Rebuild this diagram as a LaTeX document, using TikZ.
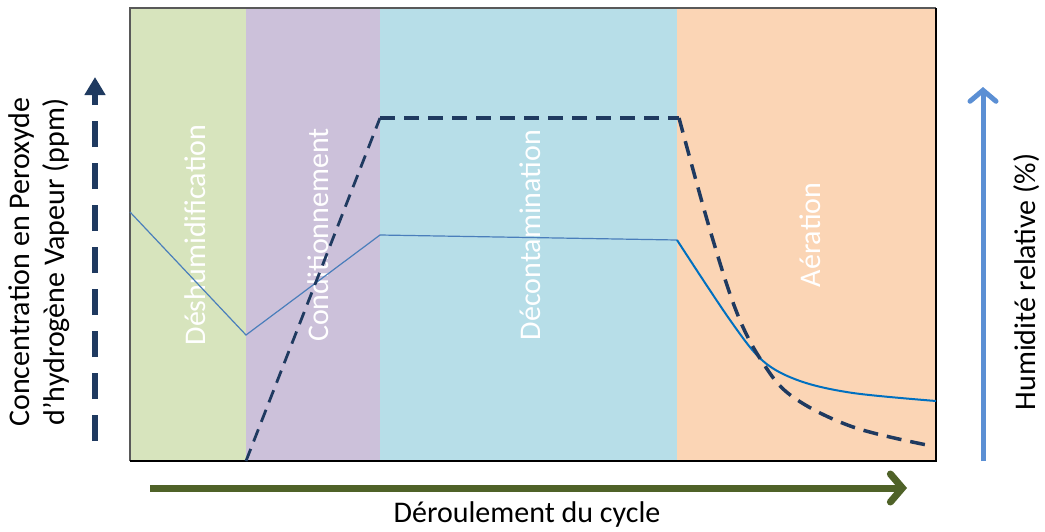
\documentclass[tikz,border=0pt]{standalone}
\usepackage{fontspec}
\setmainfont{Carlito}
\usetikzlibrary{arrows.meta}
\definecolor{cgreen}{HTML}{D7E4BD}
\definecolor{cpurple}{HTML}{CCC1DA}
\definecolor{cblue}{HTML}{B7DEE8}
\definecolor{corange}{HTML}{FBD5B5}
\definecolor{navy}{HTML}{1F3A60}
\definecolor{hum}{HTML}{4A7EBB}
\definecolor{humb}{HTML}{0070C0}
\definecolor{rarrow}{HTML}{5B8FD4}
\definecolor{olive}{HTML}{4F6228}
\tikzset{
  phase/.style={fill=#1, draw=none},
  phlabel/.style={text=white, rotate=90, font=\fontsize{30}{35}\selectfont, inner sep=0pt},
  axlabel/.style={text=black, font=\fontsize{30}{35}\selectfont, inner sep=0pt},
  conc/.style={draw=navy, line width=3.5pt, dash pattern=on 15pt off 9pt},
  humid/.style={draw=hum, line width=1.2pt},
}
\begin{document}
\begin{tikzpicture}[x=1pt,y=-1pt]
\useasboundingbox (0,0) rectangle (1045,531);
% phases
\fill[phase=cgreen] (130,8) rectangle (246,461);
\fill[phase=cpurple] (246,8) rectangle (380,461);
\fill[phase=cblue] (380,8) rectangle (677,461);
\fill[phase=corange] (677,8) rectangle (936,461);
% labels
\node[phlabel] (l1) at (195,235) {Déshumidification};
\node[phlabel] (l2) at (318,235) {Conditionnement};
\node[phlabel] (l3) at (530,235) {Décontamination};
\node[phlabel] (l4) at (810,235) {Aération};
% frame
\draw[draw=black!65, line width=2pt] (130,461) -- (130,8) -- (936,8);
\draw[draw=black, line width=2.5pt] (130,461) -- (936,461) -- (936,8);
% humidity curve
\coordinate (h0) at (130,212);
\coordinate (h1) at (246,335);
\coordinate (h2) at (380,235);
\coordinate (h3) at (677,240);
\draw[humid] (h0) -- (h1) -- (h2) -- (h3);
\draw[draw=humb, line width=2pt] plot[smooth, tension=0.55] coordinates {(677,240) (730,320) (763,361) (800,381) (853,393) (936,401)};
% concentration curve
\coordinate (c0) at (246,461);
\coordinate (c1) at (380,118);
\coordinate (c2) at (679,118);
\draw[conc, line width=2.8pt, dash pattern=on 13pt off 8pt] (c0) -- (c1);
\draw[conc] (c1) -- (c2);
\draw[conc] plot[smooth, tension=0.6] coordinates {(679,118) (710,230) (737,313) (763,363) (793,397) (853,427) (932,446)};
% left axis
\coordinate (la0) at (95,441);
\coordinate (la1) at (95,77);
\draw[draw=navy, line width=6pt, dash pattern=on 26pt off 16pt, -{Triangle[width=20pt,length=18pt]}] (la0) -- (la1);
\node[axlabel, rotate=90, align=center] (ltext) at (39,262) {Concentration en Peroxyde\\d’hydrogène Vapeur (ppm)};
% right axis
\coordinate (ra0) at (983,461);
\coordinate (ra1) at (983,87);
\draw[draw=rarrow, line width=5pt, -{Straight Barb[length=11pt,width=26pt,line cap=round]}] (ra0) -- (ra1);
\node[axlabel, rotate=90] (rtext) at (1027,282) {Humidité relative (\%)};
% bottom axis
\coordinate (ba0) at (150,488);
\coordinate (ba1) at (907,488);
\draw[draw=olive, line width=7pt, -{Straight Barb[length=12pt,width=28pt,line cap=round]}] (ba0) -- (ba1);
\node[axlabel] (btext) at (527,514) {Déroulement du cycle};
\end{tikzpicture}
\end{document}
